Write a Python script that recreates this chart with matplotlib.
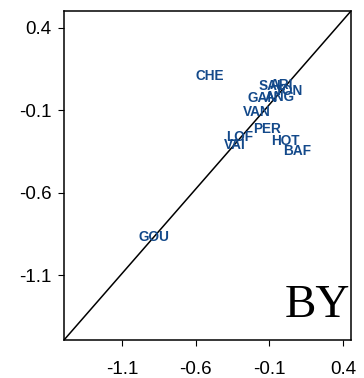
import matplotlib
matplotlib.use('Agg')
import matplotlib.pyplot as plt

# site codes and their two scores
labels = ['CHE', 'GOU', 'VAN', 'PER', 'LOF', 'VAI', 'HOT', 'BAF',
          'SAL', 'ARI', 'TON', 'GAN', 'ANG']
x_vals = [-0.503, -0.883, -0.186, -0.118, -0.299, -0.333, 0.011, 0.086,
          -0.082, -0.021, 0.030, -0.143, -0.027]
y_vals = [0.111, -0.866, -0.112, -0.215, -0.260, -0.308, -0.288, -0.345,
          0.048, 0.054, 0.018, -0.025, -0.019]
ticks = [-1.1, -0.6, -0.1, 0.4]

fig = plt.figure(figsize=(3.64, 3.78), dpi=100)
ax = fig.add_axes([0.1758, 0.1005, 0.7885, 0.8704])
ax.set_xlim(-1.494, 0.454)
ax.set_ylim(-1.493, 0.503)

# 1:1 line, corner to corner
ax.plot([0, 1], [0, 1], transform=ax.transAxes, color='black', lw=1.1)

for lab, xv, yv in zip(labels, x_vals, y_vals):
    ax.text(xv, yv, lab, ha='center', va='center', fontsize=9.8,
            fontweight='bold', color='#13498a', family='Liberation Sans')

ax.text(0.997, 0.07, 'BY', transform=ax.transAxes, ha='right', va='baseline',
        fontsize=34, family='Liberation Serif', color='black')

ax.set_xticks(ticks)
ax.set_yticks(ticks)
ax.set_xticklabels([str(t) for t in ticks], family='Liberation Sans', fontsize=13.5)
ax.set_yticklabels([str(t) for t in ticks], family='Liberation Sans', fontsize=13.5)
ax.tick_params(axis='x', length=4, pad=11)
ax.tick_params(axis='y', length=4, pad=5)
for s in ax.spines.values():
    s.set_linewidth(1.1)

fig.savefig('out.png', dpi=100)
